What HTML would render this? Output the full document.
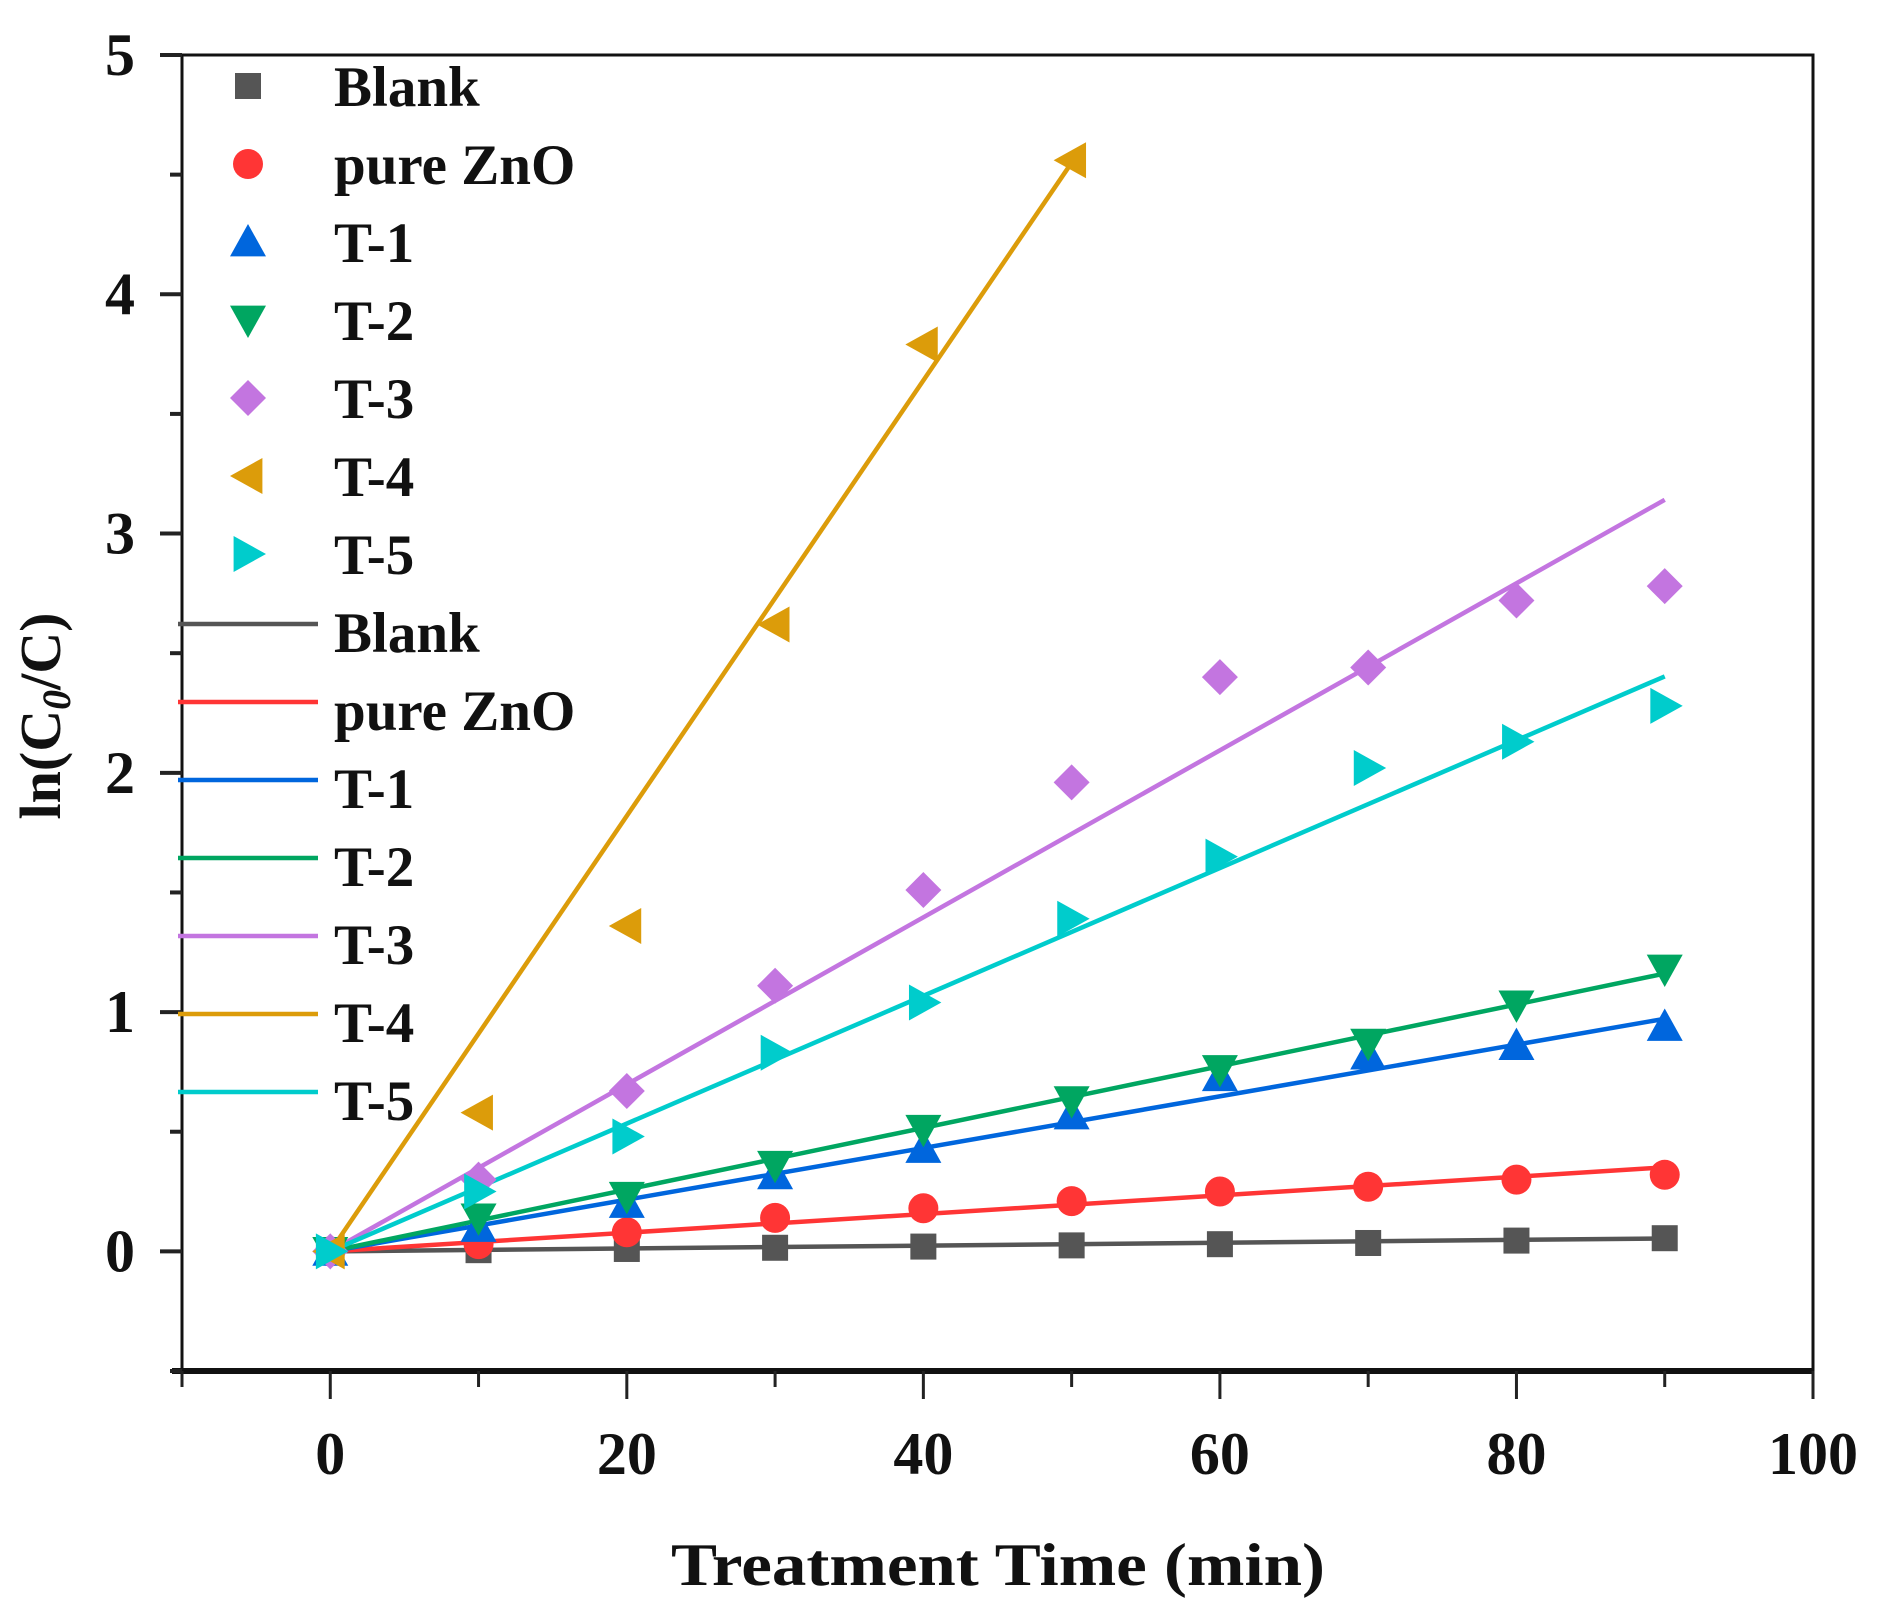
<!DOCTYPE html>
<html><head><meta charset="utf-8"><style>
html,body{margin:0;padding:0;background:#fff;}
svg{display:block;font-family:"Liberation Serif",serif;font-weight:bold;}
</style></head><body>
<svg id="chart" width="1880" height="1608" viewBox="0 0 1880 1608" xmlns="http://www.w3.org/2000/svg"></svg>
<script>
const times = [0,10,20,30,40,50,60,70,80,90];
const timesT4 = [0,10,20,30,40,50];
const seriesNames = ["Blank","pure ZnO","T-1","T-2","T-3","T-4","T-5"];
const blankVals = [0,0.005,0.01,0.015,0.02,0.025,0.03,0.035,0.045,0.055];
const znoVals = [0,0.03,0.08,0.14,0.18,0.21,0.25,0.27,0.30,0.32];
const t1Vals = [0,0.1,0.2,0.32,0.43,0.57,0.73,0.82,0.86,0.94];
const t2Vals = [0,0.14,0.23,0.36,0.51,0.63,0.76,0.87,1.03,1.18];
const t3Vals = [0,0.3,0.67,1.11,1.51,1.96,2.40,2.44,2.72,2.78];
const t4Vals = [0,0.58,1.36,2.62,3.79,4.56];
const t5Vals = [0,0.25,0.48,0.83,1.04,1.39,1.65,2.02,2.13,2.28];
const fitSlopes = [0.0006,0.0039,0.0108,0.0129,0.0349,0.091,0.0267];
const xTicks = [0,20,40,60,80,100];
const yTicks = [0,1,2,3,4,5];

const svg = document.getElementById('chart');
const NS = 'http://www.w3.org/2000/svg';
const L=182,R=1813,T=55,B=1371;
const xMin=-10,xMax=100,yMin=-0.5,yMax=5;
const xs = v => L + (v-xMin)/(xMax-xMin)*(R-L);
const ys = v => B - (v-yMin)/(yMax-yMin)*(B-T);
function mk(tag, attrs, parent){const e=document.createElementNS(NS,tag);for(const k in attrs)e.setAttribute(k,attrs[k]);(parent||svg).appendChild(e);return e;}

const colors = ["#555555","#ff3535","#0066dd","#00a661","#c375e0","#dc9c0a","#00cccc"];
const shapes = ["square","circle","up","down","diamond","left","right"];
const allVals = [blankVals,znoVals,t1Vals,t2Vals,t3Vals,t4Vals,t5Vals];
const allTimes = [times,times,times,times,times,timesT4,times];

function marker(shape,cx,cy,color,parent){
  const s=18;let e;
  if(shape==="square") e=mk('rect',{x:cx-13,y:cy-13,width:26,height:26,fill:color},parent);
  else if(shape==="circle") e=mk('circle',{cx:cx,cy:cy,r:15,fill:color},parent);
  else {
    let p;
    if(shape==="up") p=[[cx,cy-s],[cx+s,cy+s*0.8],[cx-s,cy+s*0.8]];
    else if(shape==="down") p=[[cx,cy+s],[cx+s,cy-s*0.8],[cx-s,cy-s*0.8]];
    else if(shape==="left") p=[[cx-s,cy],[cx+s*0.8,cy-s],[cx+s*0.8,cy+s]];
    else if(shape==="right") p=[[cx+s,cy],[cx-s*0.8,cy-s],[cx-s*0.8,cy+s]];
    else p=[[cx,cy-s],[cx+s,cy],[cx,cy+s],[cx-s,cy]];
    e=mk('polygon',{points:p.map(q=>q.join(',')).join(' '),fill:color},parent);
  }
  return e;
}

const frame = mk('rect',{x:L,y:T,width:R-L,height:B-T,fill:'none',stroke:'#111','stroke-width':3});


mk('line',{x1:L-10,y1:B,x2:R,y2:B,stroke:'#111','stroke-width':6});

for(let v=-0.5; v<=5.001; v+=0.5){
  const major = Math.abs(v-Math.round(v))<1e-6;
  const t=mk('line',{x1:L,y1:ys(v),x2:L-(major?22:12),y2:ys(v),stroke:'#222','stroke-width':4});
  
  
}
yTicks.forEach(v=>{
  const t=mk('text',{x:120,y:ys(v)+20,'text-anchor':'middle','font-size':60,fill:'#111'});
  t.textContent=v;
  
  
});
for(let v=-10; v<=100; v+=10){
  const major = v%20===0;
  const t=mk('line',{x1:xs(v),y1:B,x2:xs(v),y2:B+(major?28:16),stroke:'#222','stroke-width':3});
  
  
}
xTicks.forEach(v=>{
  const t=mk('text',{x:xs(v),y:1474,'text-anchor':'middle','font-size':60,fill:'#111'});
  t.textContent=v;
  
  
});
const xt=mk('text',{x:998,y:1585,'text-anchor':'middle','font-size':60,fill:'#111',textLength:654,lengthAdjust:'spacingAndGlyphs'});
xt.textContent='Treatment Time (min)';


const yt=mk('text',{x:0,y:0,'text-anchor':'middle','font-size':58,fill:'#111',transform:'translate(60,716) rotate(-90)'});
yt.innerHTML='ln(C<tspan font-style="italic" font-size="40" dy="10">0</tspan><tspan dy="-10">/C)</tspan>';



allVals.forEach((vals,i)=>{
  const tt=allTimes[i]; const tEnd=tt[tt.length-1];
  const ln=mk('line',{x1:xs(0),y1:ys(0),x2:xs(tEnd),y2:ys(fitSlopes[i]*tEnd),stroke:colors[i],'stroke-width':4.5});
  
  
});
allVals.forEach((vals,i)=>{
  const g=mk('g',{});
  
  
  vals.forEach((v,j)=>{
    const m=marker(shapes[i],xs(allTimes[i][j]),ys(v),colors[i],g);
    
    
  });
});

const lg=mk('g',{});


seriesNames.forEach((n,i)=>{
  const y=86+i*78;
  const m=marker(shapes[i],248,y,colors[i],lg);
  
  
  const t=mk('text',{x:334,y:y+20,'font-size':57,fill:'#111'},lg);
  t.textContent=n;
  
  
});
seriesNames.forEach((n,i)=>{
  const y=86+(i+7)*78;
  const l=mk('line',{x1:178,y1:y-8,x2:318,y2:y-8,stroke:colors[i],'stroke-width':4.5},lg);
  
  
  const t=mk('text',{x:334,y:y+20,'font-size':57,fill:'#111'},lg);
  t.textContent=n;
  
  
});
</script>
</body></html>
